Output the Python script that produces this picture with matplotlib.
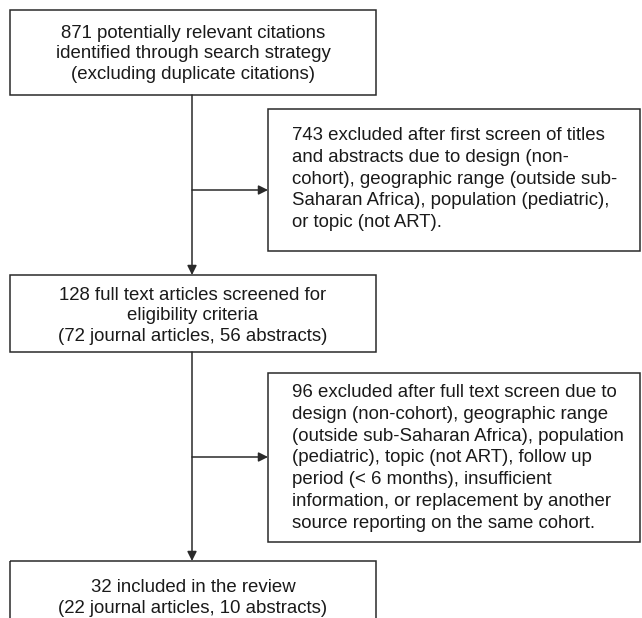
import matplotlib.pyplot as plt
from matplotlib.patches import Rectangle

# textes des boites (ordre du flux)
main_texts = [
    "871 potentially relevant citations\nidentified through search strategy\n(excluding duplicate citations)",
    "128 full text articles screened for\neligibility criteria\n(72 journal articles, 56 abstracts)",
    "32 included in the review\n(22 journal articles, 10 abstracts)",
]
excl_texts = [
    "743 excluded after first screen of titles\nand abstracts due to design (non-\ncohort), geographic range (outside sub-\nSaharan Africa), population (pediatric),\nor topic (not ART).",
    "96 excluded after full text screen due to\ndesign (non-cohort), geographic range\n(outside sub-Saharan Africa), population\n(pediatric), topic (not ART), follow up\nperiod (< 6 months), insufficient\ninformation, or replacement by another\nsource reporting on the same cohort.",
]

plt.rcParams['font.family'] = ['Liberation Sans', 'DejaVu Sans']
fig = plt.figure(figsize=(6.42, 6.18), dpi=100)
ax = fig.add_axes([0, 0, 1, 1])
ax.set_xlim(0, 642)
ax.set_ylim(618, 0)
ax.axis('off')

lc = '#2a2a2a'
lw = 1.1
fs = 13.4

# boites principales (x, y, largeur, hauteur) en pixels
main_boxes = [(10, 10, 366, 85), (10, 275, 366, 77), (10, 561, 366, 80)]
excl_boxes = [(268, 109, 372, 142), (268, 373, 372, 169)]
main_text_y = [54, 316, 598]
excl_text_y = [179, 458]

for (x, y, w, h), t, ty in zip(main_boxes, main_texts, main_text_y):
    ax.add_patch(Rectangle((x, y), w, h, fill=False, ec=lc, lw=lw, clip_on=False))
    ax.text(x + w / 2, ty, t, ha='center', va='center', fontsize=fs,
            color='#1a1a1a', linespacing=1.3)

for (x, y, w, h), t, ty in zip(excl_boxes, excl_texts, excl_text_y):
    ax.add_patch(Rectangle((x, y), w, h, fill=False, ec=lc, lw=lw, clip_on=False))
    ax.text(x + 24, ty, t, ha='left', va='center', fontsize=fs,
            color='#1a1a1a', linespacing=1.36)

xc = 192
arrow = dict(arrowstyle='-|>', color=lc, lw=lw, mutation_scale=14, shrinkA=0, shrinkB=0)

# fleches verticales
ax.annotate('', xy=(xc, 275), xytext=(xc, 95), arrowprops=arrow)
ax.annotate('', xy=(xc, 561), xytext=(xc, 352), arrowprops=arrow)

# fleches horizontales vers les exclusions
ax.annotate('', xy=(268, 190), xytext=(xc, 190), arrowprops=arrow)
ax.annotate('', xy=(268, 457), xytext=(xc, 457), arrowprops=arrow)

fig.savefig('out.png', dpi=100)
